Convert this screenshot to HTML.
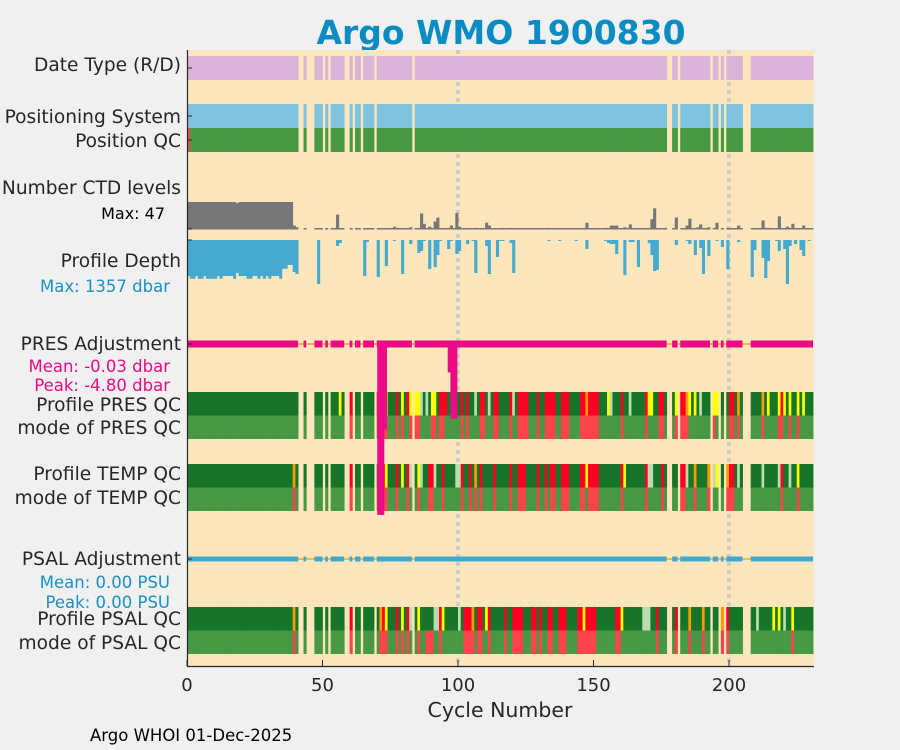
<!DOCTYPE html>
<html><head><meta charset="utf-8"><style>
html,body{margin:0;padding:0;background:#f0f0f0;}
svg{display:block;font-family:"DejaVu Sans","Liberation Sans",sans-serif;}
</style></head><body>
<svg id="chart" width="900" height="750" viewBox="0 0 900 750" xmlns="http://www.w3.org/2000/svg">
<rect x="0" y="0" width="900" height="750" fill="#f0f0f0"/>
<text x="501" y="44" text-anchor="middle" font-size="33" font-weight="bold" fill="#0a8cc2">Argo WMO 1900830</text>
<rect x="187" y="50" width="627" height="616" fill="#fee6bc"/>
<g id="grid"></g>
<g id="marks"></g>
<g font-size="18.6" fill="#262626" text-anchor="end">
<text x="181" y="71">Date Type (R/D)</text>
<text x="181" y="123">Positioning System</text>
<text x="181" y="147">Position QC</text>
<text x="181" y="194">Number CTD levels</text>
<text x="165" y="219" font-size="16" fill="#000">Max: 47</text>
<text x="181" y="267">Profile Depth</text>
<text x="170" y="292" font-size="16.5" fill="#1a90c4">Max: 1357 dbar</text>
<text x="181" y="350">PRES Adjustment</text>
<text x="170" y="372" font-size="16.5" fill="#ee0a86">Mean: -0.03 dbar</text>
<text x="170" y="391" font-size="16.5" fill="#ee0a86">Peak: -4.80 dbar</text>
<text x="181" y="411">Profile PRES QC</text>
<text x="181" y="434">mode of PRES QC</text>
<text x="181" y="480">Profile TEMP QC</text>
<text x="181" y="504">mode of TEMP QC</text>
<text x="181" y="565">PSAL Adjustment</text>
<text x="170" y="588" font-size="16.5" fill="#1a90c4">Mean: 0.00 PSU</text>
<text x="170" y="608" font-size="16.5" fill="#1a90c4">Peak: 0.00 PSU</text>
<text x="181" y="625">Profile PSAL QC</text>
<text x="181" y="649">mode of PSAL QC</text>
</g>
<g id="axes"></g>
<text x="500" y="717" text-anchor="middle" font-size="20.5" fill="#262626">Cycle Number</text>
<text x="90" y="741" font-size="16.5" fill="#000">Argo WHOI 01-Dec-2025</text>
</svg>
<script>
const presentRanges = [[0,41],[43,44],[47,50],[51,52],[53,58],[60,61],[62,64],[65,69],[70,83],[84,177],[179,181],[182,193],[194,196],[197,198],[199,205],[208,231]];
const xTicks = [0,50,100,150,200];
const ctdEarly = [47,47,47,47,47,47,47,47,47,47,47,47,47,47,47,47,47,47,45,47,47,47,47,47,47,47,47,47,47,47,47,47,47,47,47,47,47,47,47,6,3];
const ctdLater = [[55,25],[71,2],[76,4],[77,2],[82,3],[85,2],[86,27],[87,9],[89,4],[91,13],[92,20],[97,6],[99,28],[100,4],[106,2],[110,11],[111,6],[116,2],[119,2],[133,2],[137,2],[147,11],[154,2],[156,6],[157,6],[158,6],[161,3],[163,8],[171,17],[172,36],[180,20],[184,6],[185,18],[188,3],[189,8],[192,3],[194,2],[195,11],[199,2],[203,6],[212,15],[213,2],[214,2],[218,22],[221,4],[223,9],[227,6]];
const depthEarly = [1110,1194,1194,1110,1194,1194,1110,1194,1194,1194,1194,1110,1194,1110,1110,1110,1110,1194,1018,1110,1110,1110,1194,1194,1110,1110,1194,1110,1194,1110,1194,1110,1110,1110,1194,885,885,771,771,987,1049];
const depthLater = [[48,1357],[55,185],[56,93],[65,1110],[66,62],[70,1141],[73,802],[76,31],[79,1049],[82,123],[85,401],[86,339],[87,31],[89,895],[91,833],[92,463],[93,31],[96,278],[97,31],[99,432],[100,339],[103,123],[105,31],[106,1018],[110,185],[111,1049],[114,524],[115,31],[116,31],[119,93],[120,1018],[133,31],[137,31],[143,31],[147,278],[154,31],[155,93],[156,123],[157,123],[158,432],[161,1080],[163,62],[164,62],[166,833],[170,93],[171,463],[172,956],[173,926],[180,154],[184,31],[185,123],[187,463],[189,247],[190,1049],[192,494],[195,31],[197,216],[199,895],[203,62],[208,1141],[209,308],[212,555],[213,1172],[214,648],[217,31],[218,339],[220,278],[221,1357],[222,185],[224,123],[226,308],[227,494],[229,31]];
const presAdj = [[71,-4.8],[72,-2.4],[97,-0.8],[98,-2.1]];
const positionQcFlags = [[0,'4']];
const presProfileQc = [[56,'C'],[60,'F'],[70,'F'],[72,'F'],[73,'C'],[77,'F'],[79,'C'],[81,'F'],[82,'C'],[84,'C'],[85,'C'],[86,'E'],[88,'E'],[90,'C'],[91,'C'],[93,'F'],[94,'F'],[95,'F'],[98,'C'],[101,'F'],[103,'F'],[106,'E'],[108,'F'],[109,'F'],[111,'E'],[113,'F'],[114,'F'],[119,'F'],[120,'E'],[122,'F'],[123,'F'],[124,'F'],[125,'F'],[129,'F'],[132,'F'],[133,'F'],[134,'F'],[135,'F'],[138,'F'],[139,'F'],[140,'F'],[145,'F'],[146,'F'],[147,'D'],[148,'F'],[149,'F'],[150,'F'],[151,'F'],[155,'C'],[156,'E'],[160,'F'],[163,'E'],[169,'F'],[170,'C'],[171,'C'],[174,'F'],[175,'F'],[180,'C'],[182,'F'],[183,'F'],[184,'D'],[185,'C'],[187,'C'],[189,'E'],[194,'C'],[195,'C'],[200,'F'],[201,'F'],[203,'D'],[212,'D'],[214,'C'],[218,'C'],[219,'F'],[220,'C'],[222,'C'],[225,'C'],[227,'C']];
const presModeBad = [60,72,73,77,79,82,84,85,90,91,93,94,101,103,108,109,113,114,119,122,123,124,125,129,132,133,134,135,138,139,140,145,146,147,148,149,150,151,160,169,174,175,180,182,183,184,194,200,201,203,212,218,219,222,225];
const tempProfileQc = [[39,'D'],[60,'F'],[72,'F'],[73,'C'],[77,'F'],[79,'C'],[81,'F'],[82,'E'],[85,'C'],[86,'E'],[89,'F'],[90,'F'],[91,'E'],[94,'F'],[99,'E'],[100,'E'],[101,'F'],[104,'F'],[106,'D'],[108,'F'],[113,'F'],[119,'F'],[122,'F'],[123,'F'],[124,'F'],[129,'F'],[132,'F'],[134,'F'],[135,'F'],[138,'F'],[139,'F'],[140,'F'],[145,'F'],[146,'F'],[147,'C'],[148,'F'],[149,'F'],[150,'F'],[151,'F'],[160,'F'],[161,'C'],[169,'F'],[170,'E'],[171,'E'],[175,'F'],[182,'F'],[183,'F'],[184,'E'],[187,'D'],[192,'D'],[194,'E'],[195,'C'],[199,'D'],[200,'F'],[201,'F'],[203,'E'],[212,'E'],[218,'E'],[219,'F'],[222,'E'],[225,'C']];
const tempModeBad = [39,60,72,73,77,81,85,89,90,94,101,104,106,108,113,119,122,123,124,129,132,134,135,138,139,140,145,146,148,149,150,151,160,169,175,182,183,187,192,199,200,201,219,225];
const psalProfileQc = [[39,'D'],[60,'F'],[71,'D'],[72,'F'],[73,'C'],[77,'F'],[79,'C'],[81,'F'],[82,'E'],[85,'C'],[91,'E'],[92,'E'],[93,'F'],[94,'C'],[100,'E'],[102,'F'],[103,'F'],[104,'F'],[105,'D'],[107,'F'],[108,'F'],[110,'C'],[111,'F'],[117,'F'],[120,'F'],[121,'F'],[122,'F'],[123,'F'],[127,'F'],[128,'F'],[130,'F'],[133,'F'],[134,'F'],[137,'F'],[138,'F'],[139,'F'],[144,'F'],[145,'F'],[146,'C'],[147,'F'],[148,'F'],[149,'F'],[150,'F'],[158,'F'],[159,'F'],[160,'C'],[168,'E'],[169,'E'],[170,'E'],[173,'F'],[180,'F'],[185,'D'],[190,'D'],[193,'C'],[197,'D'],[199,'F'],[210,'E'],[216,'C'],[218,'C'],[220,'E'],[223,'C']];
const psalModeBad = [39,60,71,72,73,77,79,81,85,88,89,90,93,102,103,104,105,107,108,111,117,120,121,122,123,127,128,130,133,134,137,138,139,144,145,146,147,148,149,150,158,159,173,180,185,190,197,199,223];

const X0 = 187, XS = 2.71;
function x(c){ return X0 + c*XS; }
const NS = 'http://www.w3.org/2000/svg';
const marks = document.getElementById('marks');
const grid = document.getElementById('grid');
const axes = document.getElementById('axes');
function el(tag, attrs, parent){
  const e = document.createElementNS(NS, tag);
  for (const k in attrs) e.setAttribute(k, attrs[k]);
  parent.appendChild(e);
  return e;
}
const cycles = [];
presentRanges.forEach(r => { for (let c = r[0]; c < r[1]; c++) cycles.push(c); });

const COL = {A:'#167529','1':'#479944',F:'#ff0022','4':'#fd444d',C:'#ffff00',D:'#ff9a00',E:'#bcdcb0'};

[100,200].forEach(t => {
  const g = el('line', {x1:x(t), x2:x(t), y1:50, y2:666, stroke:'#cccccc', 'stroke-width':4, 'stroke-dasharray':'4 4'}, grid);
  
  
});

function qcRow(y, h, name, flags, dflt, badList, badCode){
  const map = {};
  flags.forEach(p => { map[p[0]] = p[1]; });
  if (badList) badList.forEach(c => { map[c] = badCode; });
  const g = el('g', {}, marks);
  
  
  cycles.forEach(c => {
    const code = map[c] || dflt;
    const r = el('rect', {x:x(c), y:y, width:XS+0.4, height:h, fill:COL[code] || code}, g);
    
    
  });
}
qcRow(56, 24, 'date-type-row', [], '#dbb5d9');
qcRow(104, 24, 'positioning-system-row', [], '#7fc4df');
qcRow(128, 24, 'position-qc-row', positionQcFlags, '1');
qcRow(392, 23.5, 'profile-pres-qc-row', presProfileQc, 'A');
qcRow(415.5, 23.5, 'mode-pres-qc-row', [], '1', presModeBad, '4');
qcRow(464, 23.5, 'profile-temp-qc-row', tempProfileQc, 'A');
qcRow(487.5, 23.5, 'mode-temp-qc-row', [], '1', tempModeBad, '4');
qcRow(607, 23.5, 'profile-psal-qc-row', psalProfileQc, 'A');
qcRow(630.5, 23.5, 'mode-psal-qc-row', [], '1', psalModeBad, '4');

const ctdMap = {};
ctdEarly.forEach((v,i) => { ctdMap[i] = v; });
ctdLater.forEach(p => { ctdMap[p[0]] = p[1]; });
const ctdG = el('g', {}, marks);


function yCtd(v){ return 229 - v*27/47; }
cycles.forEach(c => {
  const v = ctdMap[c] !== undefined ? ctdMap[c] : 1;
  const top = Math.min(yCtd(v), 228);
  const r = el('rect', {x:x(c), y:top, width:XS+0.4, height:229-top+0.5, fill:'#767676'}, ctdG);
  
  
});

const depMap = {};
depthEarly.forEach((v,i) => { depMap[i] = v; });
depthLater.forEach(p => { depMap[p[0]] = p[1]; });
const depG = el('g', {}, marks);


function hDepth(v){ return v/1357*44; }
cycles.forEach(c => {
  const v = depMap[c];
  if (!v) return;
  const r = el('rect', {x:x(c), y:240, width:XS+0.4, height:hDepth(v), fill:'#45aacf'}, depG);
  
  
});

function adjLine(y0, scale, vals, color, width, name){
  const base = el('line', {x1:x(0), x2:x(231), y1:y0, y2:y0, stroke:'#f5a623', 'stroke-width':1.5}, marks);
  
  
  presentRanges.forEach(r => {
    const seg = el('line', {x1:x(r[0]), x2:x(r[1]), y1:y0, y2:y0, stroke:color, 'stroke-width':width}, marks);
    
    
  });
  vals.forEach(p => {
    const sp = el('line', {x1:x(p[0]+0.5), x2:x(p[0]+0.5), y1:y0, y2:y0 - p[1]*scale, stroke:color, 'stroke-width':width}, marks);
    
    
  });
}
adjLine(344, 35.6, presAdj, '#ee0a86', 7, 'pres-adjustment');
adjLine(559, 35.6, [], '#3fa8d2', 5, 'psal-adjustment');

const ax = el('line', {x1:187.5, x2:187.5, y1:50, y2:667, stroke:'#262626', 'stroke-width':1.2}, axes);


const bx = el('line', {x1:187, x2:814, y1:666.5, y2:666.5, stroke:'#262626', 'stroke-width':1.2}, axes);


xTicks.forEach(t => {
  const tk = el('line', {x1:x(t), x2:x(t), y1:666, y2:660, stroke:'#262626', 'stroke-width':1}, axes);
  
  
  const tl = el('text', {x:x(t), y:691, 'text-anchor':'middle', 'font-size':18, fill:'#262626'}, axes);
  tl.textContent = String(t);
  
  
});
[68,116,140,229,240,344,559].forEach(yv => {
  const yt = el('line', {x1:187, x2:192, y1:yv, y2:yv, stroke:'#262626', 'stroke-width':1}, axes);
  
  
});
</script>
</body></html>
